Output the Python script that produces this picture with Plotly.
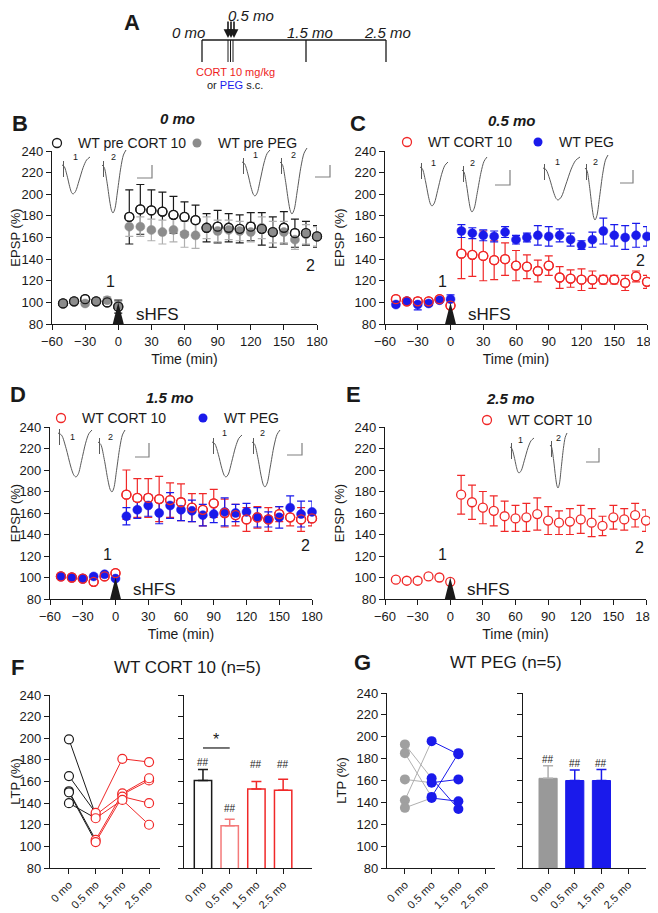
import plotly.graph_objects as go

# the page body adds an 8 px margin, so the figure is drawn a bit smaller and offset
W, H = 658, 913
OFF = 8
FW, FH = W - OFF, H - OFF
FONT = "Liberation Sans, Arial, sans-serif"
INK = "#1a1a1a"
RED = "#f02828"
PINK = "#f47a7a"
BLUE = "#1a1aeb"
GREY = "#8c8c8c"
LGREY = "#b0b0b0"
TRACE = "#5a5a5a"

# ---------------- data ----------------
time_min = [-50, -40, -30, -20, -10, 0,
            10, 20, 30, 40, 50, 60, 70, 80, 90,
            100, 110, 120, 130, 140, 150, 160, 170, 180]
hfs_time = 0

# B: 0 mo (before injection)
b_cort = [99, 101, 103, 101, 100, 96,
          179, 186, 185, 184, 181, 179, 176, 169, 170, 169, 168, 170, 168, 165, 169, 164, 164, 161]
b_cort_err = [1, 1, 2, 1, 1, 6,
              25, 23, 19, 18, 17, 14, 14, 13, 15, 13, 13, 13, 15, 14, 15, 13, 11, 10]
b_peg = [99, 101, 99, 101, 102, 97,
         170, 170, 167, 165, 167, 163, 162, 169, 166, 167, 166, 165, 169, 165, 165, 158, 163, 161]
b_peg_err = [1, 1, 2, 1, 3, 4,
             9, 9, 10, 11, 11, 12, 12, 10, 10, 9, 9, 9, 10, 10, 10, 9, 9, 9]

# C: 0.5 mo
c_cort = [103, 101, 101, 101, 103, 97,
          145, 144, 143, 139, 140, 134, 133, 129, 134, 123, 122, 121, 121, 121, 121, 118, 124, 119]
c_cort_err = [2, 1, 3, 2, 1, 2,
              23, 20, 23, 18, 15, 14, 11, 10, 9, 10, 8, 10, 8, 4, 4, 7, 5, 6]
c_peg = [98, 101, 98, 99, 102, 103,
         166, 164, 162, 161, 165, 158, 160, 162, 161, 162, 158, 153, 158, 166, 162, 160, 162, 161]
c_peg_err = [2, 2, 5, 2, 1, 4,
             6, 5, 5, 5, 5, 4, 4, 9, 9, 6, 6, 4, 7, 12, 10, 11, 11, 9]

# D: 1.5 mo
d_cort = [101, 100, 99, 96, 101, 104,
          177, 174, 174, 173, 172, 170, 165, 163, 169, 160, 158, 154, 156, 154, 159, 156, 154, 155]
d_cort_err = [1, 1, 1, 2, 1, 1,
              23, 18, 18, 21, 16, 17, 13, 15, 13, 13, 10, 11, 10, 11, 7, 8, 11, 7]
d_peg = [101, 100, 99, 101, 103, 99,
         157, 163, 167, 160, 167, 163, 162, 158, 159, 161, 160, 161, 156, 154, 156, 165, 159, 161]
d_peg_err = [1, 2, 1, 1, 1, 1,
             8, 8, 10, 10, 12, 10, 10, 10, 8, 13, 8, 8, 9, 7, 10, 11, 12, 10]

# E: 2.5 mo
e_cort = [98, 97, 97, 101, 100, 96,
          177, 170, 165, 162, 157, 155, 156, 159, 153, 151, 152, 154, 151, 148, 156, 154, 158, 153]
e_cort_err = [2, 2, 2, 0.5, 0.5, 1,
              18, 16, 15, 14, 14, 12, 13, 15, 13, 11, 12, 13, 13, 9, 11, 10, 11, 10]

# F / G: LTP per animal and group mean
ages = ["0 mo", "0.5 mo", "1.5 mo", "2.5 mo"]
f_ltp = [[199, 129, 148, 161],
         [165, 131, 181, 178],
         [151, 106, 149, 163],
         [150, 104, 146, 140],
         [140, 126, 143, 120]]
f_mean = [161, 119, 153, 152]
f_sem = [10, 6, 7, 10]
g_ltp = [[193, 162, 134],
         [185, 145, 185],
         [161, 158, 161],
         [142, 196, 184],
         [135, 144, 141]]
g_mean = [162, 160, 160]
g_sem = [11.5, 9.5, 10]

# example fEPSP sweep template (normalised)
sweep_down_u = [0, 0.2, 0.45, 0.7, 0.87, 1.0]
sweep_down_v = [0, 0.05, 0.35, 0.75, 0.95, 1.0]
sweep_up_u = [0, 0.15, 0.35, 0.6, 0.8, 1.0]
sweep_up_v = [0, 0.07, 0.35, 0.72, 0.92, 1.0]

# ---------------- layout helpers ----------------
fig = go.Figure()
ann = []
shapes = []


def px(x):
    return (x - OFF) / FW


def py(y):
    return 1 - (y - OFF) / FH


def ref(n):
    return ("x" if n == 1 else f"x{n}"), ("y" if n == 1 else f"y{n}")


def common():
    return dict(showline=True, linecolor=INK, linewidth=1.3, ticks="outside", ticklen=5,
                tickwidth=1.3, tickcolor=INK, showgrid=False, zeroline=False, automargin=False,
                tickfont=dict(size=13, family=FONT, color=INK), fixedrange=True)


def text(x, y, s, size=13, color=INK, xanchor="center", **kw):
    ann.append(dict(x=px(x), y=py(y), xref="paper", yref="paper", text=s, showarrow=False,
                    xanchor=xanchor, yanchor="middle", font=dict(size=size, color=color, family=FONT), **kw))


layout = dict(width=FW, height=FH, margin=dict(l=0, r=0, t=0, b=0, autoexpand=False),
              paper_bgcolor="white", plot_bgcolor="rgba(0,0,0,0)", showlegend=False,
              font=dict(family=FONT, color=INK))

# time-course panels: n, x px range, y px range (page pixels)
time_panels = {1: (52, 317, 151, 324), 2: (385, 647, 151, 324),
               3: (50, 312, 427, 599), 4: (385, 646, 427, 599)}
for n, (x0, x1, y0, y1) in time_panels.items():
    xa, ya = ref(n)
    layout["xaxis" + ("" if n == 1 else str(n))] = dict(
        domain=[px(x0), px(x1)], range=[-60, 180], tickvals=list(range(-60, 181, 30)), anchor=ya,
        title=dict(text="Time (min)", font=dict(size=14), standoff=6), **common())
    layout["yaxis" + ("" if n == 1 else str(n))] = dict(
        domain=[py(y1), py(y0)], range=[80, 240], tickvals=list(range(80, 241, 20)), anchor=xa,
        title=dict(text="EPSP (%)", font=dict(size=13), standoff=6), **common())

# LTP panels: n, x px, y px, x range, show labels
ltp_panels = {5: (50, 160, 695, 868, [-0.71, 3.41], True),
              6: (184, 312, 695, 868, [-0.71, 4.08], False),
              7: (387, 495, 693, 868, [-0.67, 3.37], True),
              8: (523, 646, 693, 868, [-0.94, 3.67], False)}
for n, (x0, x1, y0, y1, xr, lab) in ltp_panels.items():
    xa, ya = ref(n)
    cx = common()
    cx["tickfont"] = dict(size=11, family=FONT, color=INK)
    layout[f"xaxis{n}"] = dict(domain=[px(x0), px(x1)], range=xr, tickvals=[0, 1, 2, 3],
                               ticktext=ages, tickangle=-45, anchor=ya, **cx)
    ydict = dict(domain=[py(y1), py(y0)], range=[80, 240], tickvals=list(range(80, 241, 20)),
                 anchor=xa, showticklabels=lab, **common())
    if lab:
        ydict["title"] = dict(text="LTP (%)", font=dict(size=13), standoff=6)
    layout[f"yaxis{n}"] = ydict

# overlay in page-pixel units for schematic parts
layout["xaxis9"] = dict(domain=[0, 1], range=[OFF, W], visible=False, fixedrange=True, anchor="y9",
                        automargin=False)
layout["yaxis9"] = dict(domain=[0, 1], range=[H, OFF], visible=False, fixedrange=True, anchor="x9",
                        automargin=False)


# ---------------- time-course panels ----------------
def err_trace(n, y, e, color):
    xa, ya = ref(n)
    return go.Scatter(x=time_min, y=y, mode="markers", marker=dict(size=1, color="rgba(0,0,0,0)"),
                      error_y=dict(type="data", array=e, color=color, thickness=1.2, width=4),
                      xaxis=xa, yaxis=ya, hoverinfo="skip", cliponaxis=False)


def time_panel(n, o_y, o_e, o_col, f_y=None, f_e=None, f_col=None, f_ecol=None):
    xa, ya = ref(n)
    fig.add_trace(err_trace(n, o_y, o_e, o_col))
    if f_y is not None:
        fig.add_trace(err_trace(n, f_y, f_e, f_ecol))
    fig.add_trace(go.Scatter(x=time_min, y=o_y, mode="markers", xaxis=xa, yaxis=ya, cliponaxis=False,
                             marker=dict(symbol="circle", size=9, color="white",
                                         line=dict(color=o_col, width=1.3))))
    if f_y is not None:
        fig.add_trace(go.Scatter(x=time_min, y=f_y, mode="markers", xaxis=xa, yaxis=ya, cliponaxis=False,
                                 marker=dict(symbol="circle", size=9, color=f_col,
                                             line=dict(color=f_col, width=0.5))))
        fig.add_trace(go.Scatter(x=time_min, y=o_y, mode="markers", xaxis=xa, yaxis=ya, cliponaxis=False,
                                 marker=dict(symbol="circle-open", size=9, color=o_col,
                                             line=dict(width=1.3))))
    fig.add_trace(go.Scatter(x=[hfs_time - 5, hfs_time, hfs_time + 5], y=[80, 100, 80], mode="lines",
                             fill="toself", fillcolor=INK, line=dict(width=0, color=INK),
                             xaxis=xa, yaxis=ya, hoverinfo="skip"))


time_panel(1, b_cort, b_cort_err, INK, b_peg, b_peg_err, GREY, LGREY)
time_panel(2, c_cort, c_cort_err, RED, c_peg, c_peg_err, BLUE, BLUE)
time_panel(3, d_cort, d_cort_err, RED, d_peg, d_peg_err, BLUE, BLUE)
time_panel(4, e_cort, e_cort_err, RED)

# "1", "2" and sHFS markers in data units
for n, y1, y2 in [(1, 119, 134), (2, 119, 139), (3, 121, 130), (4, 121, 128)]:
    xa, ya = ref(n)
    ann.append(dict(x=-7, y=y1, xref=xa, yref=ya, text="1", showarrow=False, font=dict(size=16)))
    ann.append(dict(x=174, y=y2, xref=xa, yref=ya, text="2", showarrow=False, font=dict(size=16)))
    ann.append(dict(x=14, y=89, xref=xa, yref=ya, text="sHFS", showarrow=False, xanchor="left",
                    font=dict(size=17)))

# ---------------- F: WT CORT 10 ----------------
for row in f_ltp:
    fig.add_trace(go.Scatter(x=[0, 1], y=row[:2], mode="lines", line=dict(color=INK, width=1),
                             xaxis="x5", yaxis="y5"))
    fig.add_trace(go.Scatter(x=[1, 2, 3], y=row[1:], mode="lines", line=dict(color=RED, width=1),
                             xaxis="x5", yaxis="y5"))
fig.add_trace(go.Scatter(x=[0] * len(f_ltp), y=[r[0] for r in f_ltp], mode="markers",
                         marker=dict(size=9, color="white", line=dict(color=INK, width=1.2)),
                         xaxis="x5", yaxis="y5", cliponaxis=False))
for j in (1, 2, 3):
    fig.add_trace(go.Scatter(x=[j] * len(f_ltp), y=[r[j] for r in f_ltp], mode="markers",
                             marker=dict(size=9, color="white", line=dict(color=RED, width=1.2)),
                             xaxis="x5", yaxis="y5", cliponaxis=False))

f_cols = [INK, PINK, RED, RED]
for i in range(4):
    fig.add_trace(go.Bar(x=[i], y=[f_mean[i]], width=0.65, xaxis="x6", yaxis="y6",
                         marker=dict(color="white", line=dict(color=f_cols[i], width=1.5)),
                         error_y=dict(type="data", array=[f_sem[i]], arrayminus=[0], symmetric=False,
                                      color=f_cols[i], thickness=1.5, width=5)))
for i, yh in enumerate([178, 135, 176, 176]):
    ann.append(dict(x=i, y=yh, xref="x6", yref="y6", text="##", showarrow=False, font=dict(size=10)))
shapes.append(dict(type="line", xref="x6", yref="y6", x0=0, x1=1, y0=191, y1=191,
                   line=dict(color=INK, width=1.2)))
ann.append(dict(x=0.5, y=199, xref="x6", yref="y6", text="*", showarrow=False, font=dict(size=16)))

# ---------------- G: WT PEG ----------------
for row in g_ltp:
    fig.add_trace(go.Scatter(x=[0, 1], y=row[:2], mode="lines", line=dict(color=LGREY, width=1),
                             xaxis="x7", yaxis="y7"))
    fig.add_trace(go.Scatter(x=[1, 2], y=row[1:], mode="lines", line=dict(color=BLUE, width=1),
                             xaxis="x7", yaxis="y7"))
fig.add_trace(go.Scatter(x=[0] * len(g_ltp), y=[r[0] for r in g_ltp], mode="markers",
                         marker=dict(size=10, color="#a0a0a0"), xaxis="x7", yaxis="y7", cliponaxis=False))
for j in (1, 2):
    fig.add_trace(go.Scatter(x=[j] * len(g_ltp), y=[r[j] for r in g_ltp], mode="markers",
                             marker=dict(size=10, color=BLUE), xaxis="x7", yaxis="y7", cliponaxis=False))

g_cols = ["#999999", BLUE, BLUE]
g_ecols = [LGREY, BLUE, BLUE]
for i in range(3):
    fig.add_trace(go.Bar(x=[i], y=[g_mean[i]], width=0.68, xaxis="x8", yaxis="y8",
                         marker=dict(color=g_cols[i], line=dict(color=g_cols[i], width=1)),
                         error_y=dict(type="data", array=[g_sem[i]], arrayminus=[0], symmetric=False,
                                      color=g_ecols[i], thickness=1.5, width=5)))
for i, yh in enumerate([179, 176, 176]):
    ann.append(dict(x=i, y=yh, xref="x8", yref="y8", text="##", showarrow=False, font=dict(size=10)))


# ---------------- schematic parts (pixel overlay) ----------------
def sweep(xs, ys, xm, ym, xe, ye, label, lx, ly):
    xx = [xs + u * (xm - xs) for u in sweep_down_u] + [xm + u * (xe - xm) for u in sweep_up_u[1:]]
    yy = [ys + v * (ym - ys) for v in sweep_down_v] + [ym + v * (ye - ym) for v in sweep_up_v[1:]]
    fig.add_trace(go.Scatter(x=xx, y=yy, mode="lines", line=dict(color=TRACE, width=1, shape="spline",
                                                                 smoothing=0.8),
                             xaxis="x9", yaxis="y9", hoverinfo="skip"))
    shapes.append(dict(type="line", xref="x9", yref="y9", x0=xs + 1.5, x1=xs + 1.5, y0=ys - 4, y1=ys + 12,
                       line=dict(color=TRACE, width=1)))
    ann.append(dict(x=lx, y=ly, xref="x9", yref="y9", text=label, showarrow=False, font=dict(size=9)))


def scalebar(x, ytop, ybot, xleft):
    shapes.append(dict(type="path", xref="x9", yref="y9",
                       path=f"M {x},{ytop} L {x},{ybot} L {xleft},{ybot}",
                       line=dict(color="#808080", width=1.2)))


sweeps = [
    (62, 165, 73, 194, 90, 157, "1", 75, 157), (102, 165, 113, 213, 126, 150, "2", 113, 157),
    (242, 162, 255, 196, 270, 150, "1", 255, 155), (280, 162, 292, 214, 307, 148, "2", 293, 155),
    (420, 167, 432, 206, 448, 162, "1", 433, 163), (462, 170, 472, 212, 487, 157, "2", 472, 163),
    (543, 168, 558, 200, 580, 157, "1", 557, 162), (585, 168, 595, 220, 608, 155, "2", 595, 162),
    (58, 433, 76, 477, 92, 430, "1", 72, 437), (98, 442, 112, 492, 125, 430, "2", 110, 437),
    (212, 442, 226, 477, 242, 435, "1", 224, 433), (252, 442, 265, 487, 280, 430, "2", 262, 433),
    (510, 447, 519, 473, 534, 438, "1", 520, 440), (550, 445, 558, 488, 567, 433, "2", 558, 438),
]
for s in sweeps:
    sweep(*s)
for sb in [(152, 165, 178, 137), (330, 165, 177, 315), (510, 170, 185, 495), (633, 170, 183, 620),
           (149, 443, 457, 135), (302, 443, 455, 287), (599, 448, 462, 586)]:
    scalebar(*sb)


# legends
def legend_item(x, y, label, sym, color):
    if sym == "open":
        mk = dict(symbol="circle-open", size=9, color=color, line=dict(width=1.3))
    else:
        mk = dict(symbol="circle", size=9, color=color)
    fig.add_trace(go.Scatter(x=[x], y=[y], mode="markers", marker=mk, xaxis="x9", yaxis="y9",
                             hoverinfo="skip"))
    text(x + 19, y, label, size=14, xanchor="left")


legend_item(57, 143, "WT pre CORT 10", "open", INK)
legend_item(197, 143, "WT pre PEG", "fill", GREY)
legend_item(407, 142, "WT CORT 10", "open", RED)
legend_item(538, 142, "WT PEG", "fill", BLUE)
legend_item(61, 418, "WT CORT 10", "open", RED)
legend_item(203, 418, "WT PEG", "fill", BLUE)
legend_item(487, 420, "WT CORT 10", "open", RED)

# panel A timeline
for x0, x1, y0, y1, w in [(202, 386, 40, 40, 1.3), (202, 202, 40, 62, 1.3), (306, 306, 40, 62, 1.3),
                          (386, 386, 40, 62, 1.3), (228, 228, 40, 62, 1), (230.5, 230.5, 40, 62, 1),
                          (233, 233, 40, 62, 1)]:
    shapes.append(dict(type="line", xref="x9", yref="y9", x0=x0, x1=x1, y0=y0, y1=y1,
                       line=dict(color=INK, width=w)))
for xa in (228, 231, 234):
    ann.append(dict(x=xa, y=38, xref="x9", yref="y9", ax=0, ay=-18, text="", showarrow=True,
                    arrowhead=2, arrowsize=1.1, arrowwidth=1.6, arrowcolor=INK))
for lbl, x, y in [("0 mo", 188, 32), ("0.5 mo", 251, 15), ("1.5 mo", 310, 32), ("2.5 mo", 387, 32)]:
    text(x, y, f"<i>{lbl}</i>", size=15)
text(235, 72, "CORT 10 mg/kg", size=11, color="#ee1c1c")
text(235, 85, "or <span style='color:#1a1aeb'>PEG</span> s.c.", size=11)

# panel letters and titles
for lbl, x, y in [("A", 132, 23), ("B", 20, 123), ("C", 358, 123), ("D", 18, 395),
                  ("E", 353, 395), ("F", 17, 667), ("G", 363, 662)]:
    text(x, y, f"<b>{lbl}</b>", size=22)
for lbl, x, y in [("0 mo", 177, 118), ("0.5 mo", 512, 121), ("1.5 mo", 170, 397), ("2.5 mo", 510, 398)]:
    text(x, y, f"<b><i>{lbl}</i></b>", size=15)
text(187, 667, "WT CORT 10 (n=5)", size=17)
text(506, 662, "WT PEG (n=5)", size=17)

layout["annotations"] = ann
layout["shapes"] = shapes
fig.update_layout(**layout)
fig.update_traces(showlegend=False)

fig.write_html("out.html")
